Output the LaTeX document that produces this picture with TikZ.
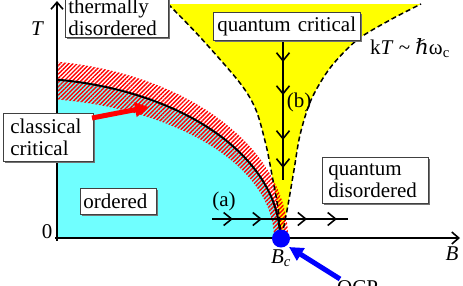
\documentclass[tikz,border=0pt]{standalone}
\usepackage{fontspec}
\setmainfont{Liberation Serif}
\newfontfamily\dvserif{DejaVu Serif}
\usetikzlibrary{arrows.meta,patterns.meta,shadows,decorations.markings}
\definecolor{cyanfill}{RGB}{112,255,255}
\definecolor{yellowfill}{RGB}{255,255,0}
\definecolor{hatchred}{RGB}{255,0,0}
\definecolor{qcpblue}{RGB}{0,0,255}
\begin{document}
\begin{tikzpicture}[x=1pt,y=-1pt,
  chev/.tip={Straight Barb[length=8pt,width=13pt,line width=1.6pt]},
  lbl/.style={draw=black!75, line width=0.6pt, fill=white, inner ysep=2pt, align=left,
    font=\fontsize{21}{22}\selectfont,
    drop shadow={shadow xshift=1.6pt, shadow yshift=-1.6pt, fill=black!55, opacity=1}},
  txt/.style={font=\fontsize{21}{22}\selectfont, inner sep=0pt},
  itxt/.style={font=\fontsize{21}{22}\selectfont\itshape, inner sep=0pt},
  axisline/.style={line width=1.8pt, -{Straight Barb[length=7pt,width=12pt,line width=1.6pt]}},
  flowA/.style={line width=1.6pt, postaction={decorate}, decoration={markings,
    mark=at position 0.154 with {\arrow{chev}},
    mark=at position 0.368 with {\arrow{chev}},
    mark=at position 0.699 with {\arrow{chev}},
    mark=at position 0.919 with {\arrow{chev}}}},
  flowB/.style={line width=1.6pt, postaction={decorate}, decoration={markings,
    mark=at position 0.157 with {\arrow{chev}},
    mark=at position 0.393 with {\arrow{chev}},
    mark=at position 0.714 with {\arrow{chev}},
    mark=at position 0.914 with {\arrow{chev}}}},
  qcline/.style={line width=1.5pt, dash pattern=on 5pt off 3pt},
  bigarrow/.style={line width=5pt, -{Triangle[length=14pt,width=14pt]}}
]
\useasboundingbox (0,0) rectangle (463,285);
\clip (0,0) rectangle (463,285);

% quantum critical (yellow) region
\fill[yellowfill] plot[smooth] coordinates {(168,4) (200,37) (240,83) (256,110) (266,145) (272,175) (278,208) (281,236)}
  -- plot[smooth] coordinates {(282,236) (288,205) (294,170) (300,135) (311,100) (330,68) (357,40) (390,20) (421,4)} -- cycle;

% ordered (cyan) region
\fill[cyanfill] (57,238) -- plot[domain=81.82:0,samples=80] ({20+260*cos(\x)},{238-160*sin(\x)}) -- cycle;

% classical critical hatched band
\fill[pattern={Lines[angle=45,distance=3pt,line width=1.4pt]}, pattern color=hatchred]
  plot[domain=82.06:0,samples=80] ({20+268*cos(\x)},{238-178*sin(\x)})
  -- plot[domain=0:81.62,samples=80] ({20+254*cos(\x)},{238-140*sin(\x)}) -- cycle;

% critical line
\draw[line width=2pt] plot[domain=81.82:0,samples=80] ({20+260*cos(\x)},{238-160*sin(\x)});

% crossover lines kT ~ hbar omega_c
\draw[qcline] plot[smooth] coordinates {(168,4) (200,37) (240,83) (256,110) (266,145) (272,175) (278,208) (281,236)};
\draw[qcline] plot[smooth] coordinates {(282,236) (288,205) (294,170) (300,135) (311,100) (330,68) (357,40) (390,20) (421,4)};

% flows
\coordinate (a1) at (212,219);
\coordinate (a2) at (348,219);
\coordinate (b1) at (283,40);
\coordinate (b2) at (283,180);
\draw[flowA] (a1) -- (a2);
\draw[flowB] (b1) -- (b2);

% axes
\coordinate (ybot) at (57,241);
\coordinate (ytop) at (57,1);
\coordinate (xbeg) at (55,238);
\coordinate (xend) at (460,238);
\draw[axisline] (ybot) -- (ytop);
\draw[axisline] (xbeg) -- (xend);

% QCP dot
\node[circle, fill=qcpblue, minimum size=18pt, inner sep=0pt] (qcp) at (281,238.5) {};

% boxes
\node[lbl, anchor=south west, text width=97pt, inner xsep=3pt] (td) at (65,37.5) {thermally\\disordered};
\node[lbl, anchor=north west, text width=139pt, inner xsep=4pt, minimum height=28pt] (qc) at (213,12) {quantum critical};
\node[lbl, anchor=north west, text width=76pt, inner xsep=7pt, minimum height=48pt] (cc) at (3,113) {classical\\critical};
\node[lbl, anchor=north west, text width=70pt, inner xsep=3pt, minimum height=26pt] (ord) at (80,188) {ordered};
\node[lbl, anchor=north west, text width=94pt, inner xsep=6pt, minimum height=46pt] (qd) at (322,157) {quantum\\disordered};

% arrows to labels
\coordinate (redtail) at (92,118);
\coordinate (redtip) at (149,107);
\draw[hatchred, bigarrow] (redtail) -- (redtip);
\coordinate (bluetail) at (340,279);
\coordinate (bluetip) at (289,247);
\draw[qcpblue, bigarrow] (bluetail) -- (bluetip);

% text labels
\node[itxt] (T) at (37,29) {T};
\node[txt] (zero) at (47,232) {0};
\node[itxt] (B) at (452,254) {B};
\node[txt] (Bc) at (281,258) {\textit{B}\textsubscript{\textit{c}}};
\node[txt] (la) at (224,201) {(a)};
\node[txt] (lb) at (299,102) {(b)};
\node[txt] (kt) at (410,48) {k\textit{T} \textasciitilde{} {\dvserif ℏ}ω\textsubscript{c}};
\node[txt, anchor=base west] (qcplabel) at (337,294) {QCP};
\end{tikzpicture}
\end{document}
